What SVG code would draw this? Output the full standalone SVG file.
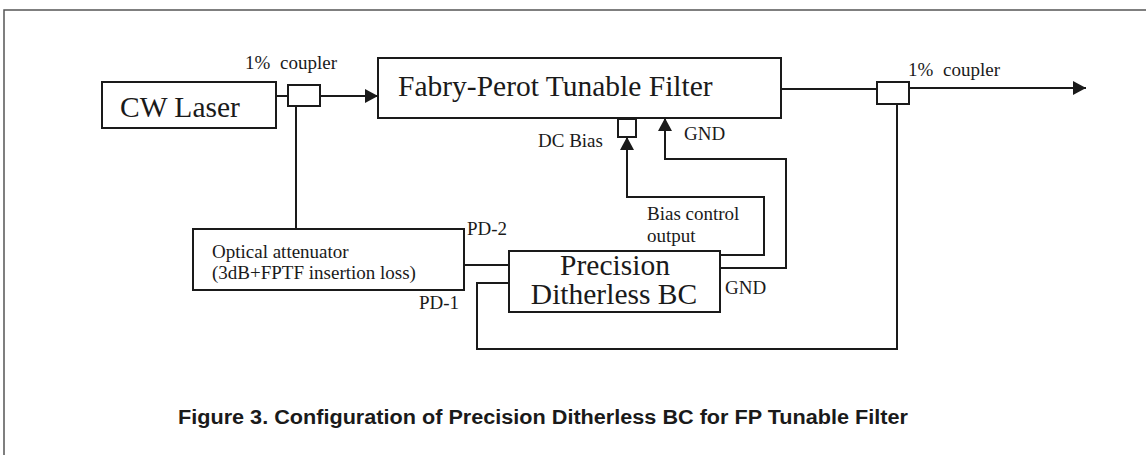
<svg xmlns="http://www.w3.org/2000/svg" width="1146" height="455" viewBox="0 0 1146 455">
<defs>
<marker id="ah" markerUnits="userSpaceOnUse" markerWidth="14" markerHeight="16" refX="13" refY="8" orient="auto">
<path d="M0,1 L13,8 L0,15 Z" fill="#1a1a1a"/>
</marker>
<style>
.box{fill:#fff;stroke:#1a1a1a;stroke-width:2}
.ln{fill:none;stroke:#1a1a1a;stroke-width:2}
.t{font-family:"Liberation Serif","Times New Roman",serif;fill:#1a1a1a}
.s{font-size:19px}
.l{font-size:29.5px}
.cap{font-family:"Liberation Sans",Arial,sans-serif;font-weight:bold;font-size:20px;fill:#1a1a1a}
</style>
</defs>
<rect width="1146" height="455" fill="#fff"/>
<path d="M4,455 L4,10 L1146,10" fill="none" stroke="#555" stroke-width="1.5"/>

<g id="connectors">
<path class="ln" d="M276,96 L288,96"/>
<path class="ln" d="M320,96 L378,96" marker-end="url(#ah)"/>
<path class="ln" d="M296,106 L296,229"/>
<path class="ln" d="M781,89 L877,89"/>
<path class="ln" d="M909,88 L1086,88" marker-end="url(#ah)"/>
<path class="ln" d="M897,104 L897,349 L477,349 L477,283 L509,283"/>
<path class="ln" d="M464,265 L509,265"/>
<path class="ln" d="M720,255 L764,255 L764,197 L627,197 L627,137" marker-end="url(#ah)"/>
<path class="ln" d="M720,268 L786,268 L786,159 L665,159 L665,118" marker-end="url(#ah)"/>
</g>

<g id="cw-laser">
<rect class="box" x="102" y="82" width="174" height="46"/>
<text class="t l" x="120" y="117">CW Laser</text>
</g>

<g id="coupler-1">
<rect class="box" x="288" y="85" width="32" height="21"/>
<text class="t s" x="245" y="69" word-spacing="5">1% coupler</text>
</g>

<g id="fp-filter">
<rect class="box" x="378" y="58" width="403" height="60"/>
<text class="t l" x="398" y="96">Fabry-Perot Tunable Filter</text>
</g>

<g id="dc-bias">
<rect class="box" x="618" y="119" width="18" height="18"/>
<text class="t s" x="538" y="147">DC Bias</text>
<text class="t s" x="684" y="140">GND</text>
</g>

<g id="coupler-2">
<rect class="box" x="877" y="82" width="32" height="22"/>
<text class="t s" x="908" y="76" word-spacing="5">1% coupler</text>
</g>

<g id="attenuator">
<rect class="box" x="193" y="229" width="271" height="61"/>
<text class="t s" x="212" y="258">Optical attenuator</text>
<text class="t s" x="212" y="279">(3dB+FPTF insertion loss)</text>
<text class="t s" x="467" y="235">PD-2</text>
<text class="t s" x="419" y="309">PD-1</text>
</g>

<g id="bias-controller">
<rect class="box" x="509" y="251" width="211" height="61"/>
<text class="t l" x="615" y="275" text-anchor="middle">Precision</text>
<text class="t l" x="614" y="304" text-anchor="middle">Ditherless BC</text>
<text class="t s" x="647" y="220">Bias control</text>
<text class="t s" x="647" y="242">output</text>
<text class="t s" x="725" y="294">GND</text>
</g>

<text class="cap" x="178" y="424" textLength="730" lengthAdjust="spacingAndGlyphs">Figure 3. Configuration of Precision Ditherless BC for FP Tunable Filter</text>
</svg>
